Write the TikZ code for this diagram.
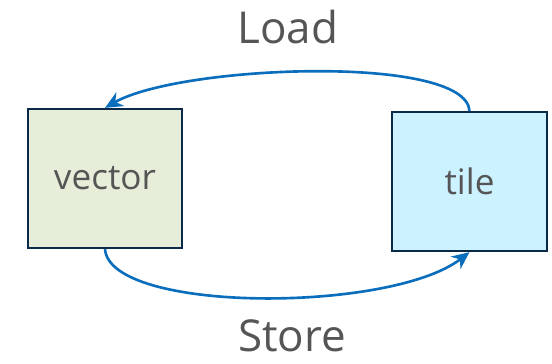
\documentclass[tikz,border=0pt]{standalone}
\usepackage{fontspec}
\setmainfont{Open Sans}
\usetikzlibrary{arrows.meta}
\definecolor{boxline}{HTML}{0B2A4A}
\definecolor{vecfill}{HTML}{E6EED9}
\definecolor{tilefill}{HTML}{CCF2FF}
\definecolor{flow}{HTML}{0A6EBD}
\definecolor{txt}{HTML}{555555}

\begin{document}
\begin{tikzpicture}
                \tikzstyle{every node}+=[inner sep=0pt, text=txt]
                \tikzstyle{membox}=[draw=boxline, line width=1.3pt, minimum height=2.78cm, align=center, font=\fontsize{20}{24}\selectfont]
                \tikzstyle{flowline}=[draw=flow, line width=1.5pt, -{Stealth[length=10pt, width=9pt]}]
                \tikzstyle{oplabel}=[font=\fontsize{25}{30}\selectfont]
                \useasboundingbox (0,0) rectangle (11.04,-7.26);
                \node [membox, fill=vecfill, minimum width=3.08cm] (vector) at (2.1,-3.57) {vector};
                \node [membox, fill=tilefill, minimum width=3.1cm] (tile) at (9.39,-3.63) {tile};
                \node [oplabel] (load) at (5.76,-0.54) {Load};
                \node [oplabel] (store) at (5.84,-6.72) {Store};
                \draw [flowline] (tile.north) .. controls +(-0.08,1.14) and +(1.5,0.86) .. (vector.north);
                \draw [flowline] (vector.south) .. controls +(0.1,-1.28) and +(-1.58,-1.22) .. (tile.south);
              \end{tikzpicture}
\end{document}
